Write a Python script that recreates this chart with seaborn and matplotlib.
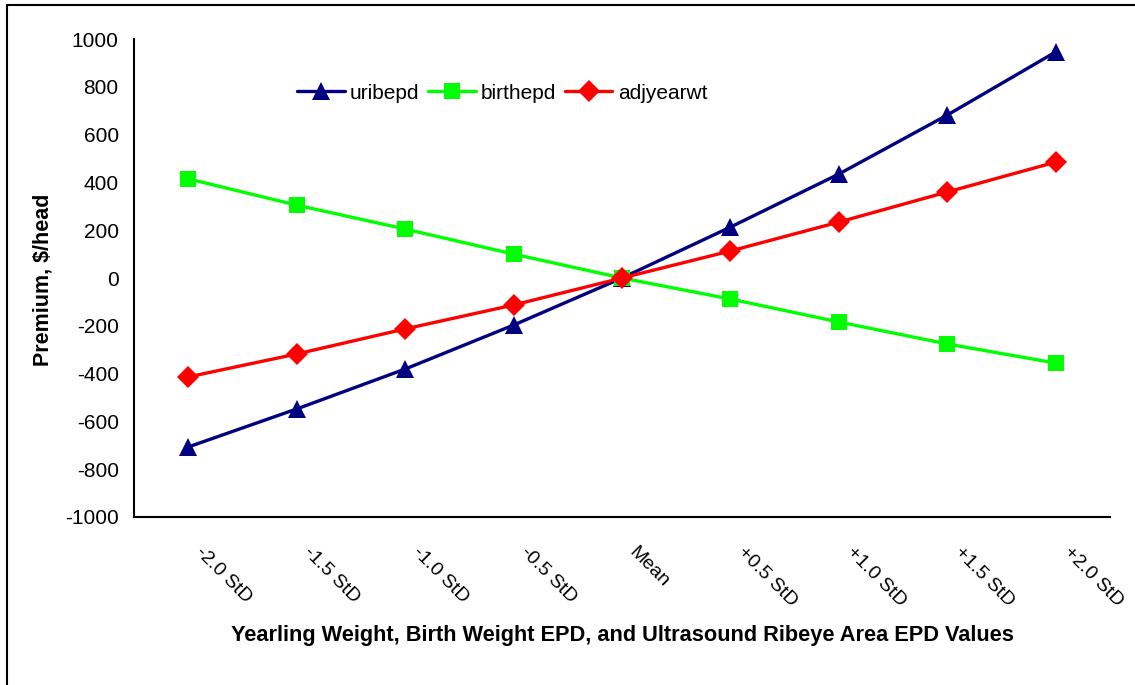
import matplotlib
matplotlib.use("Agg")
import matplotlib.pyplot as plt
import matplotlib.transforms as mtransforms
from matplotlib.patches import Rectangle
import pandas as pd
import seaborn as sns

categories = ["-2.0 StD", "-1.5 StD", "-1.0 StD", "-0.5 StD", "Mean",
              "+0.5 StD", "+1.0 StD", "+1.5 StD", "+2.0 StD"]
uribepd = [-707, -548, -381, -197, 0, 213, 435, 682, 946]
birthepd = [415, 305, 205, 100, 0, -88, -184, -276, -356]
adjyearwt = [-414, -318, -213, -113, 0, 113, 234, 360, 485]
yticks = list(range(-1000, 1001, 200))

series = {"uribepd": uribepd, "birthepd": birthepd, "adjyearwt": adjyearwt}
df = pd.DataFrame(
    [(name, cat, v) for name, vals in series.items() for cat, v in zip(categories, vals)],
    columns=["series", "category", "premium"],
)
df["pos"] = df["category"].map({c: i for i, c in enumerate(categories)})

sns.set_theme(style="white", rc={"text.color": "black", "axes.labelcolor": "black",
                                 "xtick.color": "black", "ytick.color": "black"})
plt.rcParams["font.family"] = ["Liberation Sans", "DejaVu Sans"]

palette = {"uribepd": "#000080", "birthepd": "#00FF00", "adjyearwt": "#FF0000"}
markers = {"uribepd": "^", "birthepd": "s", "adjyearwt": "D"}
msizes = {"uribepd": 13, "birthepd": 11.5, "adjyearwt": 11}

fig = plt.figure(figsize=(11.35, 6.85), dpi=100)
ax = fig.add_axes([134 / 1135, 1 - 517 / 685, (1110 - 134) / 1135, (517 - 39) / 685])

for name in series:
    sub = df[df["series"] == name]
    sns.lineplot(data=sub, x="pos", y="premium", color=palette[name],
                 marker=markers[name], markersize=msizes[name],
                 markeredgewidth=0, linewidth=2.4, label=name, ax=ax,
                 sort=False, zorder=3)

ax.set_xlim(-0.5, 8.5)
ax.set_ylim(-1000, 1000)
ax.set_yticks(yticks)
ax.set_yticklabels([str(v) for v in yticks], fontsize=15)

# category boundaries carry the tick marks, labels sit at the category centres
ax.set_xticks([i + 0.5 for i in range(-1, 9)], minor=False)
ax.set_xticklabels([])
ax.set_xticks(range(9), minor=True)
ax.set_xticklabels(categories, minor=True, rotation=-45, ha="left", va="top",
                   rotation_mode="anchor", fontsize=14)
ax.tick_params(axis="x", which="minor", length=0, pad=0)
off = mtransforms.ScaledTranslation(16 / 100, -27 / 100, fig.dpi_scale_trans)
for lbl in ax.get_xticklabels(minor=True):
    lbl.set_transform(lbl.get_transform() + off)

ax.tick_params(axis="both", which="major", direction="out", length=6,
               width=1.5, color="black", labelcolor="black")
ax.tick_params(axis="y", pad=5)
for side in ("top", "right"):
    ax.spines[side].set_visible(False)
for side in ("left", "bottom"):
    ax.spines[side].set_color("black")
    ax.spines[side].set_linewidth(1.5)

ax.set_xlabel("Yearling Weight, Birth Weight EPD, and Ultrasound Ribeye Area EPD Values",
              fontsize=15.7, fontweight="bold", labelpad=0)
ax.xaxis.set_label_coords((622 - 134) / 976, (517 - 636) / 478)
ax.xaxis.label.set_va("center")
ax.set_ylabel("Premium, $/head", fontsize=15.5, fontweight="bold")
ax.yaxis.set_label_coords((43 - 134) / 976, (517 - 280) / 478)
ax.yaxis.label.set_va("center")

ax.legend(loc="center", bbox_to_anchor=((502 - 134) / 976, (517 - 93) / 478), ncol=3,
          frameon=False, fontsize=15, handlelength=2.3, handletextpad=0.25,
          columnspacing=0.4, borderaxespad=0, borderpad=0)

fig.patches.append(Rectangle((7 / 1135, -0.05), 1.2, 1 - 5 / 685 + 0.05,
                             transform=fig.transFigure, fill=False,
                             edgecolor="black", linewidth=1.5, clip_on=False))

fig.savefig("out.png", dpi=100, facecolor="white")
